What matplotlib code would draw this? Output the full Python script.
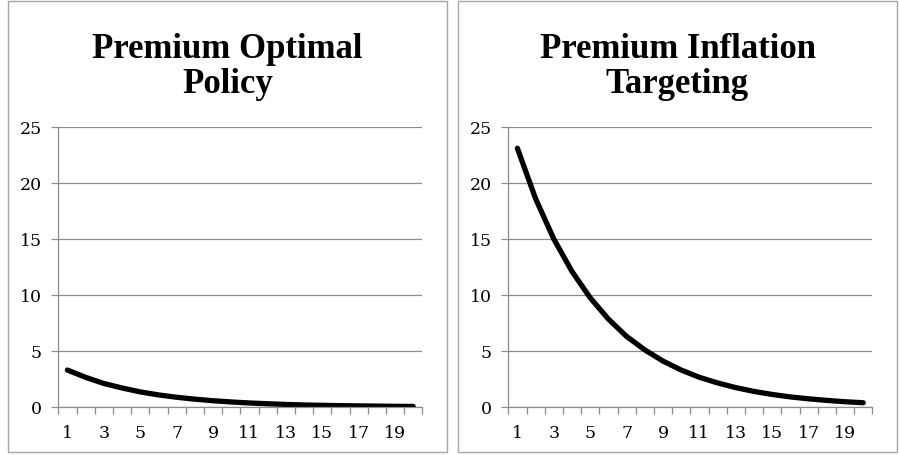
import matplotlib
matplotlib.use("Agg")
import matplotlib.pyplot as plt
from matplotlib.patches import Rectangle

periods = list(range(1, 21))
optimal_policy = [3.3, 2.65, 2.1, 1.7, 1.35, 1.08, 0.87, 0.7, 0.56, 0.45,
                  0.36, 0.29, 0.23, 0.18, 0.15, 0.12, 0.1, 0.08, 0.06, 0.05]
inflation_targeting = [23.1, 18.6, 15.0, 12.1, 9.75, 7.85, 6.3, 5.1, 4.1, 3.3,
                       2.65, 2.15, 1.73, 1.39, 1.12, 0.9, 0.73, 0.59, 0.47, 0.38]
titles = ["Premium Optimal\nPolicy", "Premium Inflation\nTargeting"]
y_ticks = [0, 5, 10, 15, 20, 25]
x_tick_labels = [1, 3, 5, 7, 9, 11, 13, 15, 17, 19]

W, H = 899, 456
GRAY = "#8c8c8c"
fig = plt.figure(figsize=(W / 100, H / 100), dpi=100)


def draw_panel(x0, series, title):
    # outer frame of the chart
    fig.patches.append(Rectangle((x0 / W, 3 / H), 439 / W, 451 / H,
                                 transform=fig.transFigure, fill=False,
                                 edgecolor="#a6a6a6", linewidth=1.0))
    fig.text((x0 + 219.5) / W, 1 - 67 / H, title, ha="center", va="center",
             fontsize=25, fontweight="bold", family="Liberation Serif",
             linespacing=1.1)

    ax = fig.add_axes([(x0 + 50.3) / W, (H - 408) / H, 364 / W, 280 / H])
    ax.plot(periods, series, color="black", linewidth=3.8,
            solid_capstyle="round", solid_joinstyle="round")
    ax.set_xlim(0.5, 20.5)
    ax.set_ylim(0, 25)
    ax.set_yticks(y_ticks)
    ax.set_xticks(x_tick_labels)
    ax.set_xticks([i + 0.5 for i in range(0, 21)], minor=True)
    ax.grid(axis="y", color=GRAY, linewidth=0.9)
    ax.set_axisbelow(True)
    for side in ["top", "right"]:
        ax.spines[side].set_visible(False)
    for side in ["left", "bottom"]:
        ax.spines[side].set_color(GRAY)
        ax.spines[side].set_linewidth(0.9)
    ax.tick_params(axis="y", length=5, color=GRAY, width=0.9, pad=7, labelsize=12.5)
    ax.tick_params(axis="x", which="major", length=0, pad=12, labelsize=12.5)
    ax.tick_params(axis="x", which="minor", length=5, color=GRAY, width=0.9)
    for lab in ax.get_xticklabels() + ax.get_yticklabels():
        lab.set_family("DejaVu Serif")


draw_panel(8, optimal_policy, titles[0])
draw_panel(458, inflation_targeting, titles[1])

fig.savefig("out.png", dpi=100)
